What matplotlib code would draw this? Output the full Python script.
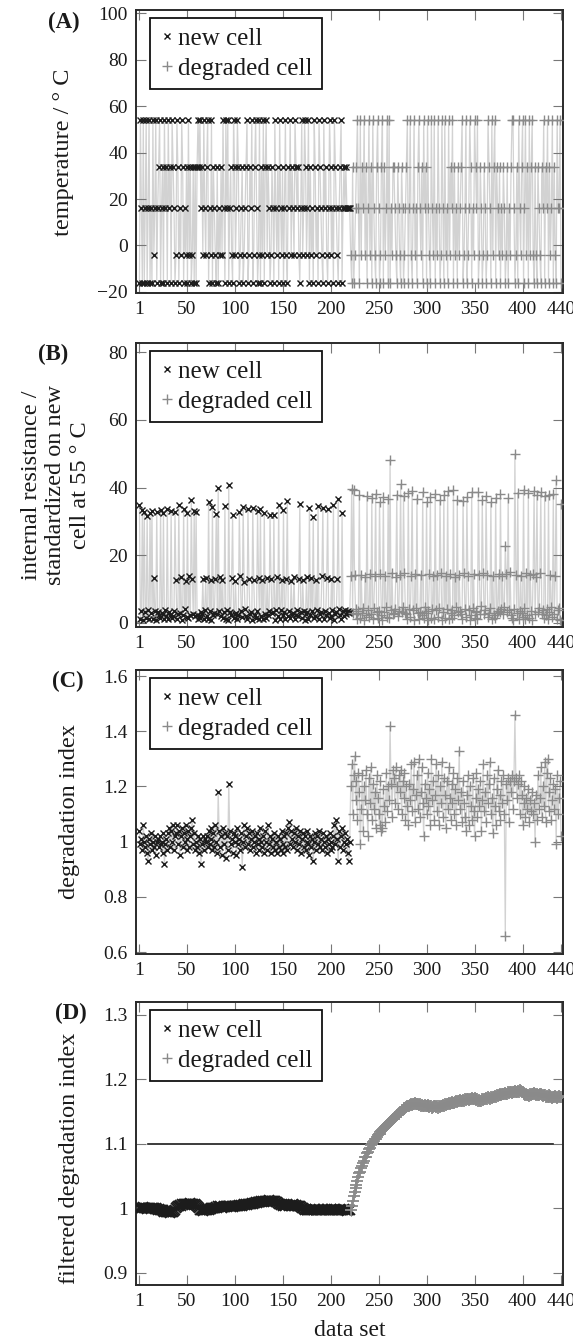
import matplotlib
matplotlib.use("Agg")
import matplotlib.pyplot as plt
from matplotlib.lines import Line2D

plt.rcParams['font.family'] = ['Liberation Serif', 'DejaVu Serif']

# ---------------------------------------------------------------- data
data_set_new = list(range(1, 221))
data_set_degraded = list(range(221, 441))
x_ticks = [1, 50, 100, 150, 200, 250, 300, 350, 400, 440]

# (A) cell temperature / degC
temp_new = [
    -16, 54, 16, -16, 54, -16, 16, 54, -16, 16,
    54, -16, 16, -16, 54, -4, 16, 54, -16, 16,
    34, 54, -16, 16, 34, -16, 54, 16, 34, -16,
    54, 16, 34, -16, 54, 34, 16, -16, -4, 54,
    34, -16, 16, -4, 54, 34, -16, 16, -4, 34,
    -16, 54, -4, 34, -16, -4, 34, -16, 34, -16,
    34, 54, 34, 54, 16, 34, -4, 54, 16, -4,
    34, 54, -16, 16, -4, 54, -16, 34, 16, -4,
    -16, 34, -16, 16, -4, 34, -4, 54, 16, -16,
    54, 16, 54, -16, 16, 34, -4, -16, 54, 34,
    -4, 16, 54, 34, -16, -4, 16, 34, -16, -4,
    16, 34, 54, -16, -4, 34, 16, 54, -16, -4,
    34, 54, 16, -16, -4, 54, -16, 34, -4, 54,
    -16, 34, 54, -4, 34, 16, -16, -4, 34, 16,
    -16, 54, 16, -4, 34, -16, 54, 16, -4, 34,
    -16, 16, 54, -4, -16, 34, 16, 54, -4, 34,
    16, -4, 54, 34, 16, 34, -4, -16, 16, 54,
    -4, 16, 54, 34, -4, 16, 54, -16, 34, -4,
    16, -16, 54, 34, -4, 16, -16, 54, 34, 16,
    -4, -16, 54, 16, 34, -4, -16, 16, 54, 34,
    -4, 16, -16, 54, 34, 16, -4, -16, 16, 34,
    54, -16, 16, 34, 16, 34, 16, 16, 16, 16,
]
temp_degraded = [
    -4, -16, 34, -16, -4, 16, 34, 54, 16, -16,
    54, -4, 34, 16, 54, -4, 34, -16, 16, 54,
    -4, 34, -16, 54, 16, -4, -16, 34, 54, 16,
    -16, -4, 34, 54, -16, 34, -4, 16, 54, -16,
    54, -16, 16, -4, 34, 34, 16, -4, -16, 34,
    16, -4, -16, 34, 16, -16, -4, 16, 34, 54,
    -16, 16, 54, -4, -16, 16, 54, -4, 16, -16,
    34, 54, 16, -4, 34, -16, 54, 16, 34, -16,
    54, 16, -4, -16, 54, 16, -4, 54, -16, 16,
    -4, 54, 16, -16, -4, 54, 16, -16, 54, -4,
    16, -16, 54, -4, 34, 16, 54, -16, 34, -4,
    16, -16, 34, -4, 16, 34, 54, -16, -4, 16,
    54, -16, -4, 16, 54, 34, -16, 16, -4, 54,
    34, 16, 54, -16, -4, 34, 16, -16, -4, 34,
    16, -16, -4, 54, 34, 16, -16, 54, -4, 34,
    54, -16, 34, 16, -4, 34, -16, 16, -4, 34,
    16, -16, -4, 34, -16, 16, -4, 34, 54, 54,
    16, -16, -4, 34, -16, 54, 16, -4, 34, 54,
    -16, 16, 54, -4, 34, -16, 54, -4, 34, 54,
    -4, -16, 34, -4, -16, 34, 16, -4, -16, 34,
    16, 54, -16, 34, 16, 54, -16, 34, -4, 16,
    54, -16, 34, -4, -16, 54, 16, 16, 54, -16,
]

# (B) internal resistance, standardized on new cell at 55 degC
res_new = [
    34.8, 1.2, 3.4, 33.5, 1.0, 32.8, 3.1, 1.4, 31.6, 3.8,
    1.1, 32.4, 2.9, 33.1, 1.3, 13.2, 3.6, 1.0, 32.9, 3.2,
    2.2, 1.5, 33.4, 3.0, 2.5, 32.6, 1.2, 3.9, 2.0, 33.8,
    1.1, 3.3, 2.4, 33.0, 1.6, 2.1, 3.5, 32.7, 12.8, 1.3,
    2.6, 34.9, 3.0, 13.6, 1.0, 2.3, 33.6, 4.1, 12.4, 1.9,
    32.5, 1.4, 13.9, 2.2, 36.4, 13.1, 2.7, 33.2, 2.0, 32.8,
    2.4, 1.2, 2.1, 1.5, 3.2, 2.6, 12.9, 1.1, 3.7, 13.4,
    2.0, 1.3, 35.7, 3.4, 12.6, 1.0, 34.2, 2.3, 2.9, 13.0,
    32.1, 2.5, 39.9, 3.6, 13.5, 2.0, 12.7, 1.4, 3.1, 34.6,
    1.2, 3.8, 1.0, 40.8, 3.3, 2.2, 13.3, 31.9, 1.6, 2.7,
    12.5, 3.0, 1.1, 2.4, 32.9, 13.8, 3.5, 1.9, 34.3, 12.2,
    4.0, 2.1, 1.3, 33.7, 13.0, 2.6, 3.2, 1.0, 34.0, 12.8,
    2.3, 1.5, 3.6, 33.1, 13.4, 1.2, 33.8, 2.0, 12.6, 1.1,
    32.6, 2.5, 1.4, 13.2, 2.2, 3.4, 32.0, 12.9, 2.8, 3.1,
    31.8, 1.0, 3.7, 13.6, 2.1, 34.9, 1.3, 3.9, 12.7, 2.4,
    33.4, 3.2, 1.1, 13.1, 36.1, 2.0, 3.5, 1.6, 12.4, 2.6,
    3.0, 13.5, 1.2, 2.3, 3.8, 2.1, 13.0, 35.0, 3.3, 1.4,
    12.8, 3.6, 1.0, 2.5, 13.7, 3.1, 1.3, 33.9, 2.2, 13.3,
    3.4, 31.2, 1.5, 2.0, 12.6, 3.9, 34.5, 1.1, 2.7, 3.2,
    13.8, 34.1, 1.2, 3.5, 2.4, 13.2, 33.6, 3.0, 1.4, 2.1,
    12.9, 3.7, 34.8, 1.0, 2.6, 3.3, 13.1, 36.6, 4.0, 2.3,
    1.3, 32.6, 3.4, 2.0, 3.8, 2.5, 3.1, 3.6, 2.9, 3.3,
]
res_degraded = [
    13.9, 39.6, 2.8, 39.2, 14.3, 4.1, 2.5, 1.3, 3.6, 37.8,
    1.6, 14.1, 3.0, 4.5, 0.9, 13.7, 2.2, 37.4, 3.9, 1.8,
    14.6, 2.7, 36.9, 1.2, 4.3, 13.8, 38.1, 3.2, 1.5, 3.4,
    35.6, 14.4, 2.4, 1.0, 37.2, 3.1, 14.0, 4.7, 1.7, 36.5,
    1.4, 48.2, 3.8, 14.9, 2.6, 2.9, 4.2, 13.6, 37.9, 2.1,
    3.5, 14.2, 40.9, 3.3, 4.6, 37.6, 14.7, 3.0, 2.5, 1.1,
    38.4, 4.0, 1.9, 13.9, 39.1, 3.7, 0.8, 14.5, 4.4, 36.7,
    2.8, 1.3, 3.2, 14.1, 2.3, 38.6, 1.6, 4.8, 3.0, 35.8,
    1.0, 3.6, 14.6, 37.3, 1.5, 4.2, 13.8, 1.2, 38.2, 3.9,
    14.3, 1.8, 4.5, 36.4, 14.8, 0.9, 3.3, 37.7, 1.4, 14.0,
    4.1, 38.9, 1.1, 14.4, 2.9, 3.7, 1.6, 39.4, 2.4, 13.7,
    4.6, 36.2, 3.1, 14.2, 3.4, 2.6, 1.3, 35.9, 14.7, 4.0,
    1.7, 37.1, 13.9, 3.8, 1.0, 2.2, 38.7, 4.3, 14.5, 1.5,
    3.2, 3.5, 1.2, 38.8, 14.1, 2.7, 4.9, 36.3, 14.8, 2.5,
    3.9, 37.5, 14.3, 1.9, 3.0, 4.4, 35.7, 1.1, 13.8, 2.3,
    1.4, 37.0, 2.8, 3.6, 14.6, 3.3, 38.0, 4.1, 14.0, 2.6,
    4.7, 22.8, 14.4, 3.1, 36.8, 3.8, 15.1, 2.4, 1.6, 1.0,
    4.2, 49.8, 14.2, 2.9, 38.5, 1.3, 3.5, 13.9, 3.0, 1.8,
    39.3, 4.5, 1.2, 14.7, 2.2, 38.3, 1.5, 14.1, 3.4, 0.9,
    14.5, 39.0, 2.6, 13.6, 37.9, 3.1, 4.3, 14.9, 38.6, 2.7,
    3.7, 1.4, 37.4, 2.3, 4.0, 1.1, 37.8, 3.3, 14.2, 4.6,
    1.7, 38.1, 2.5, 13.8, 42.1, 1.3, 3.9, 4.4, 1.0, 35.2,
]

# (C) degradation index
deg_new = [
    1.04, 0.99, 1.01, 0.97, 1.06, 1.00, 0.98, 1.02, 0.96, 0.93,
    1.01, 0.99, 1.03, 0.97, 1.00, 0.98, 1.02, 0.95, 1.00, 1.01,
    0.98, 1.02, 0.99, 1.00, 0.96, 1.03, 0.92, 0.99, 1.01, 0.97,
    1.03, 1.05, 0.98, 1.04, 1.00, 1.06, 0.97, 1.02, 1.03, 1.06,
    0.99, 1.04, 0.95, 1.02, 1.05, 0.98, 1.03, 1.00, 1.06, 0.97,
    1.01, 1.04, 0.98, 1.02, 1.05, 1.08, 0.99, 1.03, 0.97, 1.00,
    0.98, 1.02, 0.96, 1.01, 0.92, 0.99, 1.02, 0.97, 1.01, 1.00,
    1.02, 0.98, 1.04, 0.99, 1.01, 1.05, 0.97, 1.03, 0.98, 1.06,
    1.00, 0.96, 1.18, 1.04, 0.98, 1.02, 0.95, 1.05, 0.99, 1.03,
    0.94, 1.02, 0.97, 1.21, 1.04, 0.99, 1.01, 0.96, 1.03, 1.00,
    1.02, 0.95, 1.05, 0.99, 1.01, 0.97, 1.03, 0.91, 1.00, 1.06,
    0.98, 1.02, 1.05, 0.99, 1.03, 0.97, 1.01, 1.04, 0.98, 1.00,
    1.02, 0.96, 1.03, 0.99, 1.01, 0.97, 1.05, 1.00, 0.98, 1.02,
    0.96, 1.04, 1.00, 0.97, 1.06, 0.99, 1.02, 0.96, 1.01, 0.98,
    1.03, 0.97, 1.00, 0.96, 1.02, 0.98, 1.01, 0.97, 1.04, 0.99,
    0.96, 1.02, 0.98, 1.03, 0.97, 1.05, 1.07, 0.99, 1.04, 1.01,
    0.98, 1.03, 1.00, 1.05, 0.97, 1.02, 0.99, 1.04, 0.96, 1.01,
    1.03, 0.98, 1.02, 0.97, 1.00, 1.04, 0.99, 0.95, 1.02, 0.98,
    1.01, 0.93, 1.00, 1.03, 0.97, 1.02, 0.99, 1.04, 0.98, 1.01,
    0.97, 1.03, 1.00, 0.98, 1.02, 0.96, 1.01, 0.99, 1.03, 0.97,
    1.00, 0.98, 1.02, 1.06, 0.99, 1.08, 1.01, 0.93, 1.04, 0.98,
    1.02, 1.05, 0.97, 1.00, 1.03, 0.99, 1.01, 0.96, 0.93, 1.00,
]
deg_degraded = [
    1.20, 1.28, 1.10, 1.24, 1.31, 1.15, 1.22, 1.08, 1.25, 1.18,
    0.99, 1.12, 1.24, 1.04, 1.20, 1.15, 1.26, 1.10, 1.02, 1.23,
    1.14, 1.27, 1.08, 1.21, 1.12, 1.18, 1.05, 1.24, 1.16, 1.10,
    1.06, 1.22, 1.04, 1.05, 1.19, 1.13, 1.07, 1.25, 1.11, 1.20,
    1.15, 1.42, 1.21, 1.09, 1.26, 1.23, 1.14, 1.27, 1.20, 1.12,
    1.24, 1.18, 1.26, 1.10, 1.22, 1.16, 1.25, 1.08, 1.20, 1.13,
    1.06, 1.21, 1.15, 1.28, 1.11, 1.19, 1.29, 1.07, 1.17, 1.24,
    1.12, 1.30, 1.09, 1.18, 1.27, 1.14, 1.02, 1.21, 1.16, 1.10,
    1.25, 1.13, 1.19, 1.06, 1.30, 1.15, 1.22, 1.08, 1.17, 1.28,
    1.11, 1.24, 1.06, 1.20, 1.14, 1.29, 1.09, 1.23, 1.17, 1.05,
    1.22, 1.12, 1.27, 1.16, 1.08, 1.21, 1.14, 1.25, 1.10, 1.19,
    1.06, 1.23, 1.15, 1.33, 1.12, 1.18, 1.07, 1.22, 1.14, 1.09,
    1.04, 1.17, 1.24, 1.06, 1.20, 1.13, 1.08, 1.23, 1.11, 1.02,
    1.16, 1.25, 1.09, 1.19, 1.13, 1.22, 1.04, 1.15, 1.28, 1.11,
    1.18, 1.07, 1.24, 1.14, 1.21, 1.29, 1.10, 1.16, 1.03, 1.23,
    1.13, 1.06, 1.19, 1.26, 1.11, 1.17, 1.08, 1.22, 1.14, 1.24,
    1.10, 0.66, 1.21, 1.15, 1.23, 1.07, 1.22, 1.18, 1.24, 1.12,
    1.22, 1.46, 1.23, 1.16, 1.21, 1.24, 1.10, 1.22, 1.17, 1.06,
    1.14, 1.20, 1.09, 1.16, 1.12, 1.19, 1.07, 1.15, 1.11, 1.18,
    1.10, 1.14, 1.00, 1.17, 1.08, 1.24, 1.12, 1.16, 1.27, 1.09,
    1.20, 1.13, 1.29, 1.07, 1.25, 1.30, 1.11, 1.18, 1.23, 1.08,
    1.15, 1.21, 1.12, 1.19, 0.99, 1.24, 1.10, 1.16, 1.22, 1.02,
]

# (D) filtered degradation index
filt_new = [
    1.001, 1.000, 1.001, 1.000, 1.002, 1.001, 1.000, 1.001, 0.999, 1.000,
    1.001, 1.000, 0.999, 1.000, 1.001, 1.000, 0.999, 1.000, 0.999, 0.998,
    0.999, 0.998, 0.997, 0.998, 0.997, 0.996, 0.995, 0.996, 0.995, 0.994,
    0.995, 0.994, 0.993, 0.994, 0.995, 0.994, 0.996, 0.998, 1.000, 1.002,
    1.003, 1.004, 1.005, 1.004, 1.006, 1.005, 1.006, 1.007, 1.006, 1.005,
    1.006, 1.007, 1.006, 1.008, 1.007, 1.006, 1.007, 1.005, 1.006, 1.005,
    1.004, 1.002, 1.000, 0.998, 0.997, 0.998, 0.996, 0.997, 0.998, 0.997,
    0.998, 0.999, 0.998, 0.999, 1.000, 0.999, 1.000, 1.001, 1.000, 1.001,
    1.002, 1.001, 1.003, 1.002, 1.003, 1.002, 1.001, 1.002, 1.003, 1.002,
    1.003, 1.002, 1.003, 1.004, 1.003, 1.002, 1.003, 1.002, 1.003, 1.004,
    1.003, 1.004, 1.003, 1.004, 1.005, 1.004, 1.005, 1.004, 1.005, 1.006,
    1.005, 1.006, 1.005, 1.006, 1.007, 1.006, 1.007, 1.008, 1.007, 1.008,
    1.008, 1.009, 1.008, 1.009, 1.010, 1.009, 1.010, 1.011, 1.010, 1.011,
    1.010, 1.011, 1.012, 1.011, 1.012, 1.013, 1.012, 1.011, 1.012, 1.011,
    1.012, 1.011, 1.010, 1.009, 1.008, 1.007, 1.006, 1.005, 1.006, 1.005,
    1.004, 1.005, 1.004, 1.005, 1.006, 1.005, 1.004, 1.005, 1.004, 1.005,
    1.006, 1.005, 1.004, 1.005, 1.004, 1.003, 1.004, 1.003, 1.002, 1.001,
    1.000, 0.999, 0.998, 0.999, 0.998, 0.997, 0.998, 0.997, 0.998, 0.997,
    0.998, 0.997, 0.998, 0.999, 0.998, 0.997, 0.998, 0.999, 0.998, 0.997,
    0.998, 0.999, 0.998, 0.997, 0.998, 0.999, 0.998, 0.997, 0.998, 0.999,
    0.998, 0.997, 0.998, 0.999, 0.998, 0.997, 0.998, 0.997, 0.998, 0.999,
    0.998, 0.997, 0.998, 0.999, 0.998, 0.997, 0.996, 0.997, 0.998, 0.997,
]
filt_degraded = [
    0.998, 1.004, 1.011, 1.019, 1.025, 1.032, 1.036, 1.043, 1.048, 1.054,
    1.057, 1.063, 1.065, 1.071, 1.073, 1.079, 1.080, 1.086, 1.088, 1.092,
    1.094, 1.098, 1.099, 1.103, 1.104, 1.108, 1.107, 1.111, 1.113, 1.115,
    1.116, 1.118, 1.120, 1.121, 1.123, 1.125, 1.126, 1.128, 1.129, 1.131,
    1.132, 1.134, 1.135, 1.137, 1.138, 1.140, 1.141, 1.143, 1.144, 1.146,
    1.147, 1.149, 1.150, 1.152, 1.153, 1.154, 1.156, 1.155, 1.157, 1.158,
    1.159, 1.158, 1.160, 1.161, 1.160, 1.162, 1.161, 1.163, 1.162, 1.161,
    1.162, 1.160, 1.161, 1.159, 1.160, 1.158, 1.159, 1.160, 1.158, 1.159,
    1.160, 1.158, 1.157, 1.159, 1.158, 1.156, 1.157, 1.159, 1.158, 1.157,
    1.158, 1.156, 1.158, 1.157, 1.159, 1.158, 1.160, 1.159, 1.161, 1.160,
    1.162, 1.161, 1.163, 1.162, 1.164, 1.163, 1.165, 1.164, 1.163, 1.165,
    1.166, 1.165, 1.167, 1.166, 1.168, 1.167, 1.166, 1.168, 1.167, 1.169,
    1.168, 1.170, 1.169, 1.168, 1.170, 1.169, 1.171, 1.170, 1.169, 1.171,
    1.170, 1.168, 1.169, 1.167, 1.168, 1.166, 1.167, 1.169, 1.168, 1.170,
    1.169, 1.171, 1.170, 1.172, 1.171, 1.170, 1.172, 1.171, 1.173, 1.172,
    1.174, 1.173, 1.175, 1.174, 1.176, 1.175, 1.177, 1.176, 1.178, 1.177,
    1.178, 1.179, 1.177, 1.178, 1.180, 1.179, 1.181, 1.180, 1.179, 1.181,
    1.180, 1.182, 1.181, 1.180, 1.182, 1.181, 1.183, 1.182, 1.180, 1.181,
    1.179, 1.178, 1.176, 1.177, 1.175, 1.176, 1.174, 1.177, 1.176, 1.178,
    1.177, 1.179, 1.178, 1.176, 1.177, 1.175, 1.176, 1.178, 1.177, 1.175,
    1.174, 1.176, 1.175, 1.173, 1.174, 1.172, 1.173, 1.175, 1.174, 1.172,
    1.171, 1.173, 1.172, 1.174, 1.173, 1.171, 1.172, 1.174, 1.173, 1.172,
]

# detection threshold drawn in panel (D)
threshold = 1.1
threshold_span = [10, 432]

# ---------------------------------------------------------------- style
INK = '#1a1a1a'
NEW_C = '#1c1c1c'
DEG_C = '#8a8a8a'
TRACE_C = '#d2d2d2'
W_PX, H_PX = 573, 1342

panels = [
    dict(tag='(A)', new=temp_new, deg=temp_degraded, trace=True,
         ylim=(-20.5, 101.5), yticks=[-20, 0, 20, 40, 60, 80, 100],
         yticklabels=['\u221220', '0', '20', '40', '60', '80', '100'],
         box=(10, 293), tag_xy=(64, 22),
         ylabel='temperature / \u00b0 C', ylabel_xy=(64, 152), ms=(4.6, 7.5)),
    dict(tag='(B)', new=res_new, deg=res_degraded, trace=True,
         ylim=(-1.2, 82.7), yticks=[0, 20, 40, 60, 80],
         yticklabels=['0', '20', '40', '60', '80'],
         box=(343, 627), tag_xy=(53, 354),
         ylabel='internal resistance /\nstandardized on new\ncell at 55 \u00b0 C',
         ylabel_xy=(56, 485), ms=(4.6, 7.5)),
    dict(tag='(C)', new=deg_new, deg=deg_degraded, trace=True,
         ylim=(0.593, 1.622), yticks=[0.6, 0.8, 1.0, 1.2, 1.4, 1.6],
         yticklabels=['0.6', '0.8', '1', '1.2', '1.4', '1.6'],
         box=(670, 954), tag_xy=(68, 681),
         ylabel='degradation index', ylabel_xy=(69, 812), ms=(4.6, 7.5)),
    dict(tag='(D)', new=filt_new, deg=filt_degraded, trace=False,
         ylim=(0.881, 1.320), yticks=[0.9, 1.0, 1.1, 1.2, 1.3],
         yticklabels=['0.9', '1', '1.1', '1.2', '1.3'],
         box=(1002, 1285), tag_xy=(71, 1013),
         ylabel='filtered degradation index', ylabel_xy=(69, 1158),
         ms=(6.5, 9.0)),
]

fig = plt.figure(figsize=(W_PX / 100, H_PX / 100), dpi=100)
left_px, right_px = 136, 563

for p in panels:
    top, bottom = p['box']
    ax = fig.add_axes([left_px / W_PX, 1 - bottom / H_PX,
                       (right_px - left_px) / W_PX, (bottom - top) / H_PX])
    if p['trace']:
        ax.plot(data_set_new + data_set_degraded, p['new'] + p['deg'],
                color=TRACE_C, lw=0.9, zorder=1)
    ms_new, ms_deg = p['ms']
    mew = 1.0 if ms_new < 5 else 1.3
    ax.plot(data_set_new, p['new'], ls='none', marker='x', ms=ms_new, mew=mew,
            color=NEW_C, zorder=3, label='new cell')
    ax.plot(data_set_degraded, p['deg'], ls='none', marker='+', ms=ms_deg, mew=mew,
            color=DEG_C, zorder=3, label='degraded cell')
    if p['tag'] == '(D)':
        ax.plot(threshold_span, [threshold, threshold], color=INK, lw=1.2, zorder=2)

    ax.set_xlim(-2.6, 442.1)
    ax.set_ylim(*p['ylim'])
    ax.set_xticks(x_ticks)
    ax.set_xticklabels([str(t) for t in x_ticks])
    ax.set_yticks(p['yticks'])
    ax.set_yticklabels(p['yticklabels'])
    ax.tick_params(direction='in', length=7.5, width=0.8, color='#777777',
                   top=True, right=True, labelsize=14, labelcolor=INK)
    ax.tick_params(axis='x', pad=6)
    ax.tick_params(axis='y', pad=6)
    for s in ax.spines.values():
        s.set_color('#2a2a2a')
        s.set_linewidth(1.4)

    # legend markers keep the small plot-panel size
    handles = [
        Line2D([], [], ls='none', marker='x', ms=4.3, mew=1.0, color=NEW_C),
        Line2D([], [], ls='none', marker='+', ms=7.5, mew=1.0, color=DEG_C),
    ]
    leg = ax.legend(handles, ['new cell', 'degraded cell'],
                    loc='upper left', bbox_to_anchor=(0.033, 0.972),
                    borderaxespad=0, fontsize=18, frameon=True, fancybox=False,
                    framealpha=1, edgecolor='#111111', handlelength=0.6,
                    handletextpad=0.15, borderpad=0.38, labelspacing=0.3)
    leg.get_frame().set_linewidth(1.3)
    leg.set_zorder(5)
    for t in leg.get_texts():
        t.set_color(INK)

    tx, ty = p['tag_xy']
    fig.text(tx / W_PX, 1 - ty / H_PX, p['tag'], ha='center', va='center',
             fontsize=16.5, fontweight='bold', color=INK)
    lx, ly = p['ylabel_xy']
    fig.text(lx / W_PX, 1 - ly / H_PX, p['ylabel'],
             rotation=90, ha='center', va='center', multialignment='center',
             fontsize=17.5, linespacing=1.22, color=INK)

fig.text((left_px + right_px) / 2 / W_PX, 1 - 1330 / H_PX, 'data set',
         ha='center', va='center', fontsize=17, color=INK)

fig.savefig('out.png', dpi=100)
